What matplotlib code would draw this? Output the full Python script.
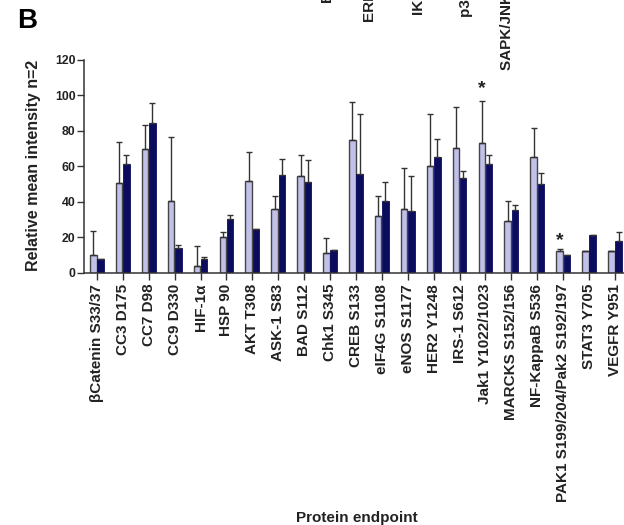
import matplotlib
matplotlib.use("Agg")
import matplotlib.pyplot as plt
import numpy as np

plt.rcParams['font.family'] = ['Liberation Sans', 'DejaVu Sans']

categories = ["βCatenin S33/37", "CC3 D175", "CC7 D98", "CC9 D330", "HIF-1α", "HSP 90",
              "AKT T308", "ASK-1 S83", "BAD S112", "Chk1 S345", "CREB S133", "eIF4G S1108",
              "eNOS S1177", "HER2 Y1248", "IRS-1 S612", "Jak1 Y1022/1023", "MARCKS S152/156",
              "NF-KappaB S536", "PAK1 S199/204/Pak2 S192/197", "STAT3 Y705", "VEGFR Y951"]

light_vals = [10, 50.5, 70, 40.2, 3.9, 20.1, 51.5, 36, 54.3, 11, 75, 32, 36, 60, 70.6, 73.1, 29.3, 65.2, 12, 12, 12]
light_err = [13.7, 23.5, 13.5, 36.2, 10.9, 2.6, 16.5, 7, 12.2, 8.6, 21.2, 11, 23, 29.4, 23.1, 24, 11.3, 16.7, 1.3, 0, 0]
dark_vals = [8, 61.4, 84.7, 13.9, 8, 30.4, 24.6, 55.2, 50.9, 13, 55.6, 40.6, 34.9, 65.5, 53.3, 61.2, 35.5, 50.1, 10.1, 21.4, 17.7]
dark_err = [0, 5.1, 10.9, 1.9, 1, 2.3, 0, 9, 12.8, 0, 33.8, 10.3, 19.4, 9.8, 4.3, 5.3, 2.8, 6.1, 0, 0, 5]
star_idx = [15, 18]
star_y = [99, 13.5]

# labels of the panel above, cropped at the top edge of the picture
top_labels = ["EGFR Y1068", "ERK1/2 T202/Y204", "IKBa S32/36", "p38 T180/Y182", "SAPK/JNK T183/Y185"]

fig = plt.figure(figsize=(6.24, 5.25), dpi=100)
ax = fig.add_axes([84/624, 1-272.7/525, 1-84/624, (272.7-60)/525])

x = np.arange(len(categories))
w = 0.25
off = 0.14
light_c = '#c0c0e8'
dark_c = '#0c0c5e'
ax.bar(x - off, light_vals, w, color=light_c, edgecolor='#454545', linewidth=1.0,
       yerr=[np.zeros(len(x)), light_err], error_kw=dict(ecolor='#333333', elinewidth=1.0, capsize=2, capthick=1.0))
ax.bar(x + off, dark_vals, w, color=dark_c, edgecolor=dark_c, linewidth=0.6,
       yerr=[np.zeros(len(x)), dark_err], error_kw=dict(ecolor='#333333', elinewidth=1.0, capsize=2, capthick=1.0))

for i, sy in zip(star_idx, star_y):
    ax.text(i - off, sy, "*", ha='center', va='bottom', fontsize=14, fontweight='bold', color='#222222')

ax.set_ylim(0, 120)
ax.set_xlim(-0.5, 20.35)
ax.set_yticks([0, 20, 40, 60, 80, 100, 120])
ax.set_xticks(x)
ax.set_xticklabels(categories, rotation=90, fontsize=11, fontweight='bold', color='#222222')
for lab in ax.get_yticklabels():
    lab.set_fontsize(8.8)
    lab.set_fontweight('bold')
    lab.set_color('#222222')
ax.tick_params(axis='x', length=5, width=1, color='#333333', pad=3)
ax.tick_params(axis='y', length=5, width=1, color='#333333', pad=1)
for s in ['top', 'right']:
    ax.spines[s].set_visible(False)
for s in ['left', 'bottom']:
    ax.spines[s].set_linewidth(1.1)
    ax.spines[s].set_color('#333333')

fig.text(34/624, 1-165/525, "Relative mean intensity n=2", rotation=90, ha='center', va='center',
         fontsize=11.5, fontweight='bold', color='#222222')
fig.text(357/624, 1-518/525, "Protein endpoint", ha='center', va='center', fontsize=11, fontweight='bold', color='#222222')
fig.text(27/624, 1-21/525, "B", ha='center', va='center', fontsize=20, fontweight='bold')

for xp, yb, t in zip([328, 370, 419, 466, 507], [3, 22, 15, 17, 70], top_labels):
    fig.text(xp/624, 1-yb/525, t, rotation=90, ha='center', va='bottom', fontsize=11, fontweight='bold', color='#222222')

fig.savefig("out.png", dpi=100)
